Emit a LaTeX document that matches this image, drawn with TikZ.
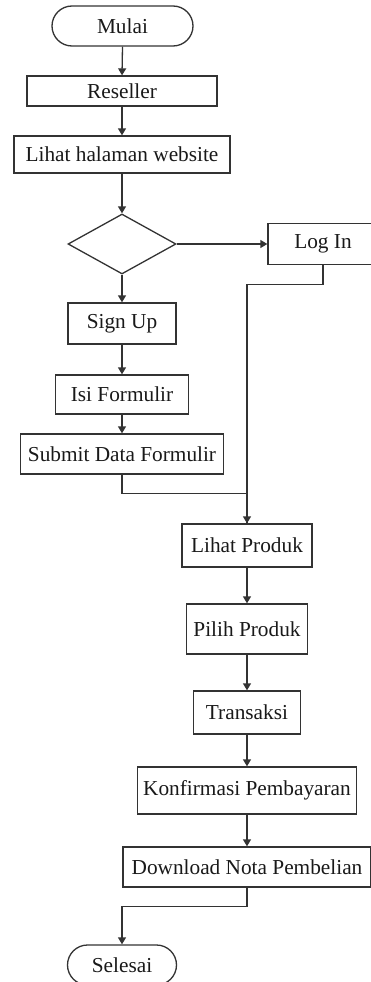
\documentclass[tikz,border=0pt]{standalone}
\usepackage{fontspec}
\setmainfont{Liberation Serif}
\usetikzlibrary{shapes.geometric,arrows.meta}
\begin{document}
\begin{tikzpicture}[x=1pt,y=-1pt,
  every node/.style={font=\fontsize{21.3}{25}\selectfont, text=black!90},
  proc/.style={draw=black!80, line width=1.3pt, rectangle, inner sep=0pt},
  term/.style={draw=black!80, line width=1.3pt, rectangle, rounded corners=20pt, inner sep=0pt, minimum height=40pt},
  decision/.style={draw=black!80, line width=1.3pt, diamond, aspect=1.8, inner sep=0pt, minimum width=108pt, minimum height=60pt},
  flow/.style={draw=black!80, line width=1.3pt, -{Triangle[length=7pt,width=8pt]}},
  link/.style={draw=black!80, line width=1.3pt}
]
\useasboundingbox (0,0) rectangle (371,982);

% left column
\node[term, minimum width=141pt] (mulai) at (122.5,26) {Mulai};
\node[proc, minimum width=190pt, minimum height=30pt] (reseller) at (122,91) {Reseller};
\node[proc, minimum width=216pt, minimum height=37pt] (halaman) at (122,154.5) {Lihat halaman website};
\node[decision] (pilihan) at (122,244) {};
\node[proc, minimum width=110pt, minimum height=41pt] (login) at (323,244) {Log In};
\node[proc, minimum width=108pt, minimum height=41pt] (signup) at (122,323.5) {Sign Up};
\node[proc, minimum width=133pt, minimum height=39pt] (isi) at (122,394.5) {Isi Formulir};
\node[proc, minimum width=203pt, minimum height=40pt] (submit) at (122,454) {Submit Data Formulir};

% right column
\node[proc, minimum width=130pt, minimum height=43pt] (lihatproduk) at (247,545.5) {Lihat Produk};
\node[proc, minimum width=121pt, minimum height=50pt] (pilihproduk) at (247,629) {Pilih Produk};
\node[proc, minimum width=107pt, minimum height=43pt] (transaksi) at (247,712.5) {Transaksi};
\node[proc, minimum width=219pt, minimum height=47pt] (konfirmasi) at (247,790.5) {Konfirmasi Pembayaran};
\node[proc, minimum width=248pt, minimum height=40pt] (nota) at (247,867) {Download Nota Pembelian};
\node[term, minimum width=109pt] (selesai) at (122,965) {Selesai};

% connectors
\draw[flow] (mulai.south) -- (reseller.north);
\draw[flow] (reseller.south) -- (halaman.north);
\draw[flow] (halaman.south) -- (pilihan.north);
\draw[flow] (pilihan.east) -- (login.west);
\draw[flow] (pilihan.south) -- (signup.north);
\draw[flow] (signup.south) -- (isi.north);
\draw[flow] (isi.south) -- (submit.north);
\draw[flow] (login.south) -- ++(0,19.5) -| (lihatproduk.north);
\draw[link] (submit.south) -- ++(0,19) -| (lihatproduk.north);
\draw[flow] (lihatproduk.south) -- (pilihproduk.north);
\draw[flow] (pilihproduk.south) -- (transaksi.north);
\draw[flow] (transaksi.south) -- (konfirmasi.north);
\draw[flow] (konfirmasi.south) -- (nota.north);
\draw[flow] (nota.south) -- ++(0,19) -| (selesai.north);
\end{tikzpicture}
\end{document}
